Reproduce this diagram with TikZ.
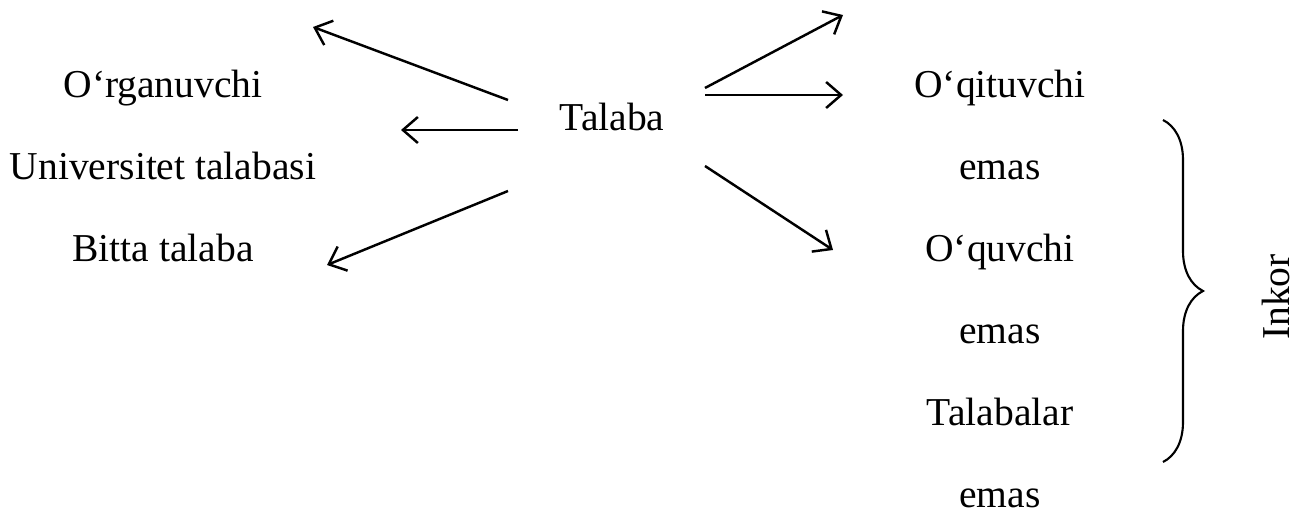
\documentclass[tikz,border=0pt]{standalone}
\usepackage{fontspec}
\setmainfont{Liberation Serif}
\usetikzlibrary{
  arrows.meta,
  positioning,
  decorations.pathreplacing
}

\begin{document}
\begin{tikzpicture}[
  x=0.02cm, y=-0.02cm,
  font=\fontsize{22.5}{27}\selectfont,
  >={Straight Barb[length=0.3cm, width=0.52cm]},
  word/.style={inner sep=0pt, anchor=base},
  arr/.style={->, line width=1.4pt},
]
  \useasboundingbox (0,0) rectangle (1295,526);

  % left column
  \node[word] (org) at (163,98) {O‘rganuvchi};
  \node[word, below=1.64cm of org.base, anchor=base] (uni) {Universitet talabasi};
  \node[word, below=1.64cm of uni.base, anchor=base] (bit) {Bitta talaba};

  \node[word] (tal) at (612,131) {Talaba};

  % right column
  \node[word] (oqi) at (1000,98) {O‘qituvchi};
  \node[word, below=1.64cm of oqi.base, anchor=base] (em1) {emas};
  \node[word, below=1.64cm of em1.base, anchor=base] (oqu) {O‘quvchi};
  \node[word, below=1.64cm of oqu.base, anchor=base] (em2) {emas};
  \node[word, below=1.64cm of em2.base, anchor=base] (tls) {Talabalar};
  \node[word, below=1.64cm of tls.base, anchor=base] (em3) {emas};

  \node[word, rotate=90] (ink) at (1289,297) {Inkor};

  % arrow ends
  \coordinate (l1s) at (508,100);  \coordinate (l1e) at (313,27);
  \coordinate (l2s) at (518,130);  \coordinate (l2e) at (401,130);
  \coordinate (l3s) at (508,191);  \coordinate (l3e) at (327,265);
  \coordinate (r1s) at (705,88);   \coordinate (r1e) at (843,15);
  \coordinate (r2s) at (705,95);   \coordinate (r2e) at (843,95);
  \coordinate (r3s) at (705,166);  \coordinate (r3e) at (833,250);

  \draw[arr] (l1s) -- (l1e);
  \draw[arr] (l2s) -- (l2e);
  \draw[arr] (l3s) -- (l3e);
  \draw[arr] (r1s) -- (r1e);
  \draw[arr] (r2s) -- (r2e);
  \draw[arr] (r3s) -- (r3e);

  % brace
  \coordinate (bt) at (1163,120);
  \coordinate (bb) at (1163,462);
  \draw[line width=1.2pt, decorate, decoration={brace, amplitude=0.8cm}] (bt) -- (bb);
\end{tikzpicture}
\end{document}
